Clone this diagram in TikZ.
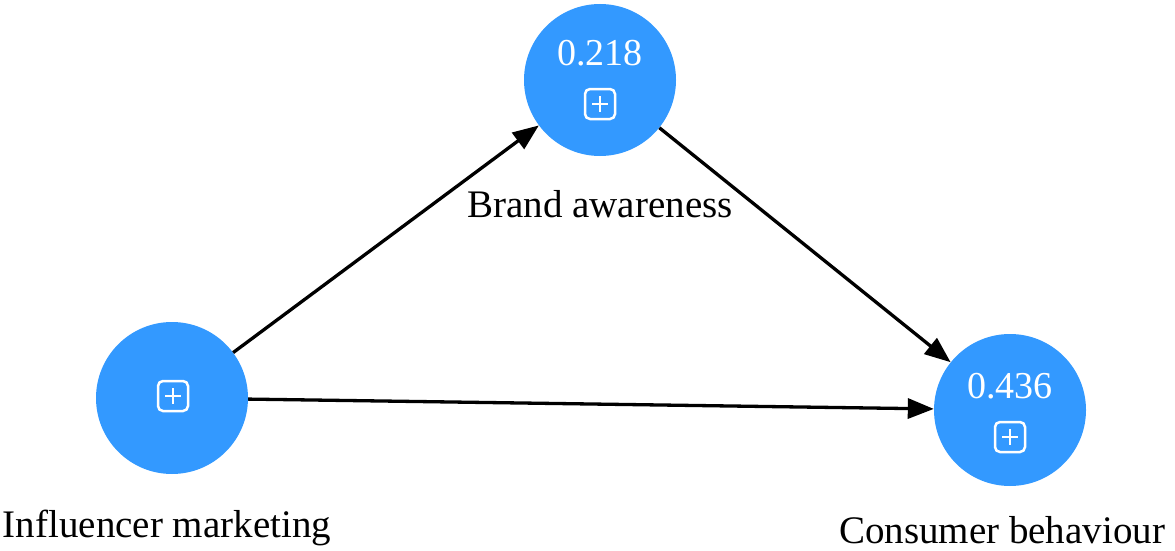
\documentclass[tikz,border=0pt]{standalone}
\usepackage{fontspec}
\setmainfont{Liberation Serif}
\usetikzlibrary{arrows.meta, positioning}

\definecolor{latentblue}{HTML}{3399FF}

\begin{document}
\begin{tikzpicture}[x=1pt, y=-1pt,
  latent/.style={circle, fill=latentblue, minimum size=152pt, inner sep=0pt},
  rsq/.style={text=white, font=\fontsize{38}{40}\selectfont, anchor=base, inner sep=0pt},
  lbl/.style={font=\fontsize{39}{42}\selectfont, anchor=base, inner sep=0pt},
  effect/.style={line width=3.3pt, -{Triangle[length=26pt, width=20pt]}},
  plusbox/.pic={
    \draw[white, line width=2.5pt, rounded corners=5pt] (-15,-15) rectangle (15,15);
    \draw[white, line width=2.5pt] (-8,0) -- (8,0) (0,-8) -- (0,8);
  }]

  \useasboundingbox (0,0) rectangle (1175,551);

  % Latent constructs
  \node[latent] (im) at (172,398) {};
  \node[latent] (ba) at (600,80) {};
  \node[latent] (cb) at (1010,410) {};

  % R-square values
  \node[rsq] (ba-r2) at (600,66) {0.218};
  \node[rsq] (cb-r2) at (1010,398) {0.436};

  % Expand icons
  \pic at (173,396) {plusbox};
  \pic at (600,104) {plusbox};
  \pic at (1010,437) {plusbox};

  % Construct names
  \node[lbl] (im-name) at (167,537) {Influencer marketing};
  \node[lbl] (ba-name) at (600,217) {Brand awareness};
  \node[lbl] (cb-name) at (1002,543) {Consumer behaviour};

  % Paths
  \draw[effect] (im) -- (ba);
  \draw[effect] (im) -- (cb);
  \draw[effect] (ba) -- (cb);

\end{tikzpicture}
\end{document}
